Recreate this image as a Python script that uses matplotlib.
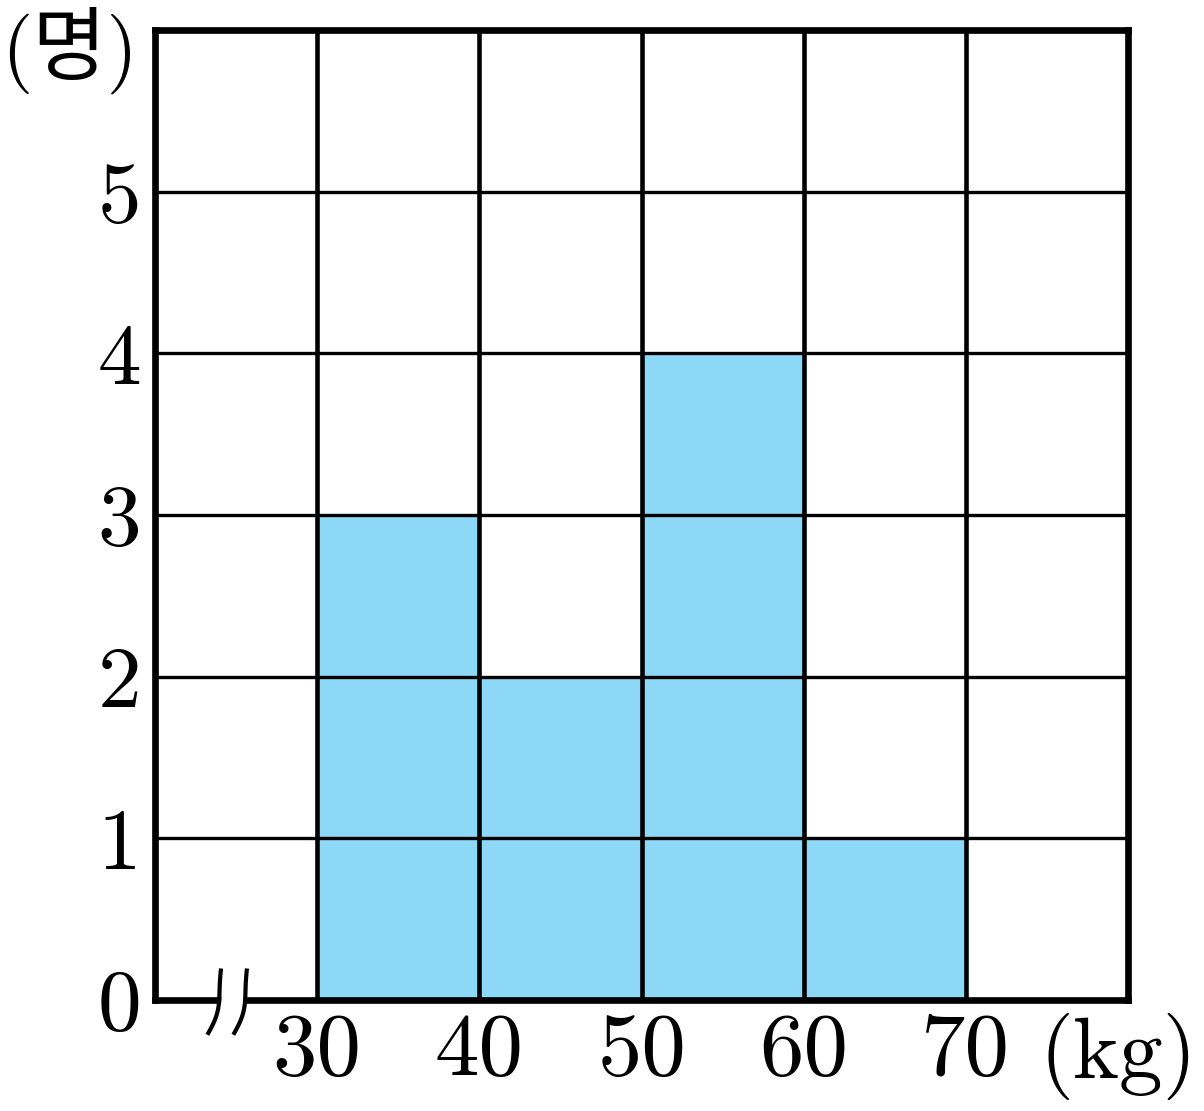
import numpy as np
import matplotlib
matplotlib.use('Agg')
import matplotlib.pyplot as plt

# histogram data (kg classes, number of people)
bin_edges = [30, 40, 50, 60, 70]
counts = [3, 2, 4, 1, 0]
x_ticks = [30, 40, 50, 60, 70]
y_ticks = [0, 1, 2, 3, 4, 5]

bar_color = '#8DD8F6'
font = 'cmr10'


def break_curve(x0, t):
    # wavy slash used for the axis break
    return x0 + 0.42 * t + 0.3 * np.cos(np.pi * t / 2) - 0.08 * np.sin(np.pi * t)


def main():
    fig = plt.figure(figsize=(12.04, 11.11), dpi=100)
    ax = fig.add_axes([155 / 1204, 111 / 1111, 973 / 1204, 970 / 1111])

    ax.bar(bin_edges, counts, width=10, align='edge', color=bar_color,
           edgecolor='none', zorder=1)

    ax.set_xlim(20, 80)
    ax.set_ylim(0, 6)
    ax.set_xticks(x_ticks)
    ax.set_yticks(y_ticks)
    ax.set_xticklabels([str(v) for v in x_ticks], fontfamily=font, fontsize=64)
    ax.set_yticklabels([str(v) for v in y_ticks], fontfamily=font, fontsize=63)
    ax.tick_params(axis='both', length=0)
    ax.tick_params(axis='x', pad=9)
    ax.tick_params(axis='y', pad=10)

    ax.set_axisbelow(False)
    ax.xaxis.grid(True, color='black', lw=3.3)
    ax.yaxis.grid(True, color='black', lw=2.4)
    for s in ax.spines.values():
        s.set_linewidth(4.8)
        s.set_zorder(4)

    # axis break mark near the origin
    t = np.linspace(-1, 1, 100)
    yy = 0.205 * t - 0.01
    left = break_curve(23.65, t)
    right = break_curve(25.25, t)
    ax.fill_betweenx(yy[30:70], left[30:70] + 0.1, right[30:70] - 0.1,
                     color='white', zorder=5, clip_on=False, lw=0)
    for xx in [left, right]:
        ax.plot(xx, yy, color='black', lw=3.0, clip_on=False, zorder=6,
                solid_capstyle='butt')

    ax.annotate('(kg)', xy=(79.4, 0), xytext=(0, -9), textcoords='offset points',
                ha='center', va='top', fontfamily=font, fontsize=63,
                annotation_clip=False)
    fig.text(70 / 1204, 1 - 50 / 1111, '(명)', ha='center', va='center',
             fontsize=58, family=[font, 'Noto Sans CJK KR'])

    fig.savefig('out.png', dpi=100)


if __name__ == '__main__':
    main()
